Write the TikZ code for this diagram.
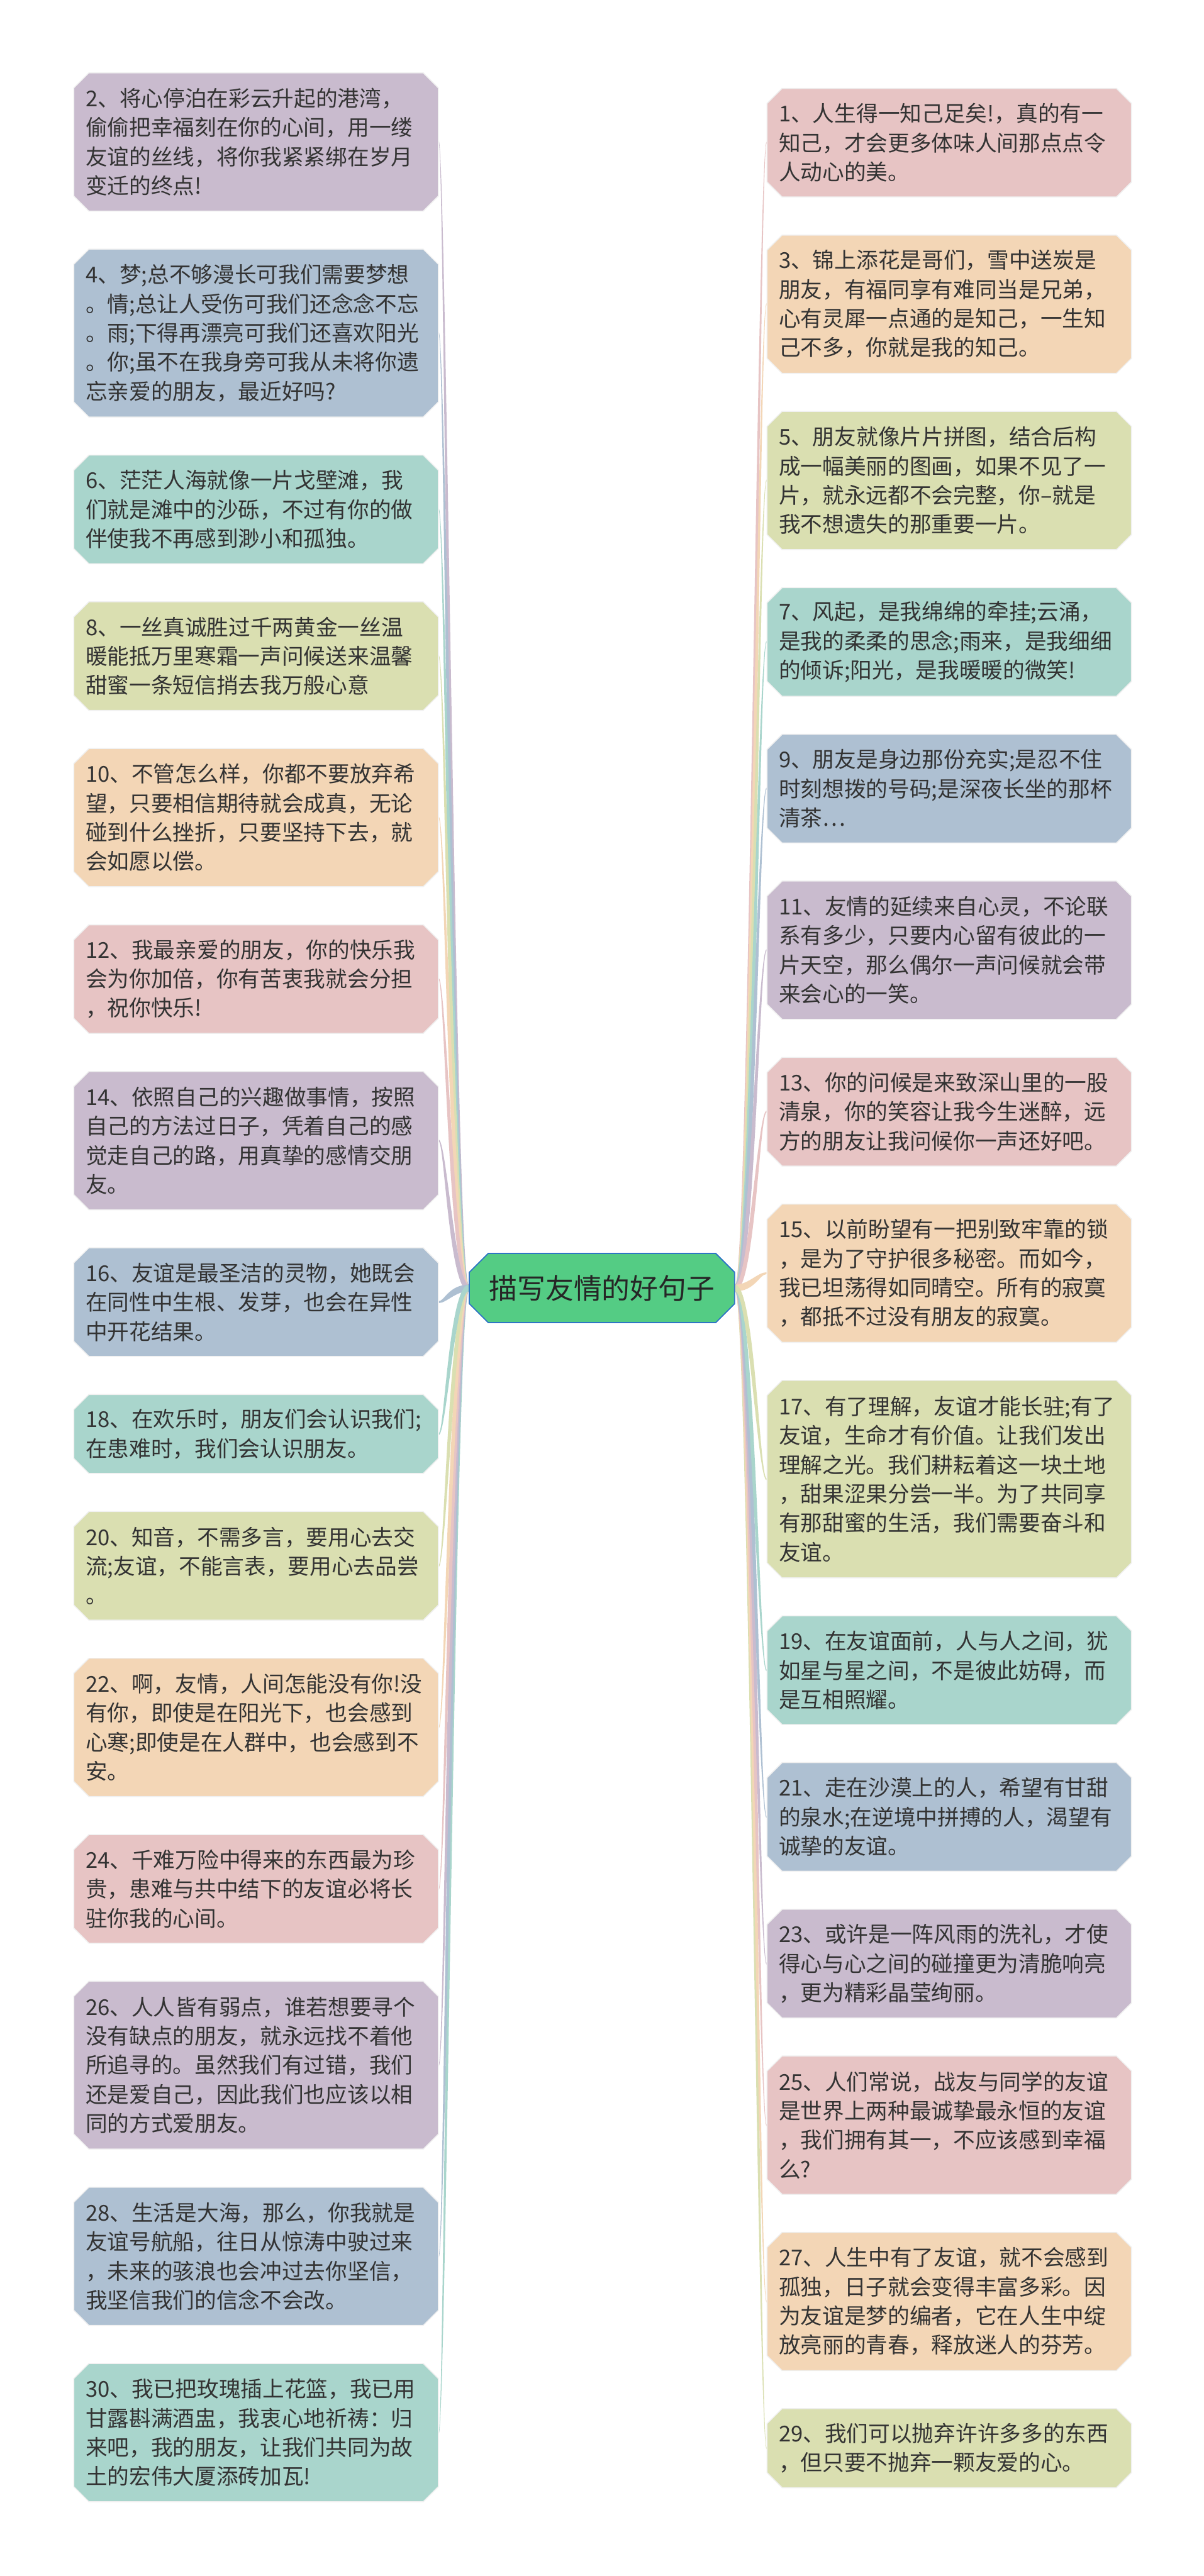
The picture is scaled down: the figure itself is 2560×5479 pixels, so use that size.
\documentclass[tikz,border=0pt]{standalone}
\usepackage{fontspec}
\newfontfamily\cjk{Noto Sans CJK SC}
\usepackage{tikz}
\usetikzlibrary{positioning,calc,shapes.misc,backgrounds}
\usepackage{xcolor}

\definecolor{cPink}{HTML}{E7C4C4}
\definecolor{cPeach}{HTML}{F3D6B6}
\definecolor{cOlive}{HTML}{DADFB1}
\definecolor{cTeal}{HTML}{A9D5CC}
\definecolor{cBlue}{HTML}{AEC0D2}
\definecolor{cLilac}{HTML}{C9BBCE}
\definecolor{cRoot}{HTML}{54CC84}
\definecolor{cRootLine}{HTML}{2E76C4}

% 渐细连线：#1 颜色，#2 目标节点，#3 方向（-1 向上，1 向下）
\newcommand{\leftbranch}[3]{%
  \pgfmathsetmacro\ca{-35-7*(#3)}\pgfmathsetmacro\cb{-35+7*(#3)}%
  \pgfmathsetmacro\cc{-50-2*(#3)}\pgfmathsetmacro\cd{-50+2*(#3)}%
  \fill[#1] ($(root.west)+(0,-7)$)
    .. controls ($(root.west)+(\ca,-7)$) and ($(#2.east -| root.west)+(\cc,-2)$) .. ($(#2.east)+(0,-2)$)
    -- ($(#2.east)+(0,2)$)
    .. controls ($(#2.east -| root.west)+(\cd,2)$) and ($(root.west)+(\cb,7)$) .. ($(root.west)+(0,7)$) -- cycle;}
\newcommand{\rightbranch}[3]{%
  \pgfmathsetmacro\ca{35+7*(#3)}\pgfmathsetmacro\cb{35-7*(#3)}%
  \pgfmathsetmacro\cc{50+2*(#3)}\pgfmathsetmacro\cd{50-2*(#3)}%
  \fill[#1] ($(root.east)+(0,-7)$)
    .. controls ($(root.east)+(\ca,-7)$) and ($(#2.west -| root.east)+(\cc,-2)$) .. ($(#2.west)+(0,-2)$)
    -- ($(#2.west)+(0,2)$)
    .. controls ($(#2.west -| root.east)+(\cd,2)$) and ($(root.east)+(\cb,7)$) .. ($(root.east)+(0,7)$) -- cycle;}

\begin{document}
\begin{tikzpicture}[x=0.25pt, y=-0.25pt,
    sentence/.style={chamfered rectangle, chamfered rectangle xsep=4pt, chamfered rectangle ysep=4pt,
      draw=black!6, line width=0.5pt, text=black!80, font=\cjk\fontsize{11.6pt}{15.5pt}\selectfont,
      text width=181.25pt, inner xsep=2.25pt, inner ysep=2pt, align=left,
      minimum width=193.75pt, minimum height={(15.75*#1+10.5)*1pt}},
    topic/.style={chamfered rectangle, chamfered rectangle xsep=5pt, chamfered rectangle ysep=5pt,
      fill=cRoot, draw=cRootLine, line width=0.6pt, text=black!85, font=\cjk\fontsize{15pt}{18pt}\selectfont,
      minimum width=141pt, minimum height=36.75pt, inner sep=0pt}]
    \useasboundingbox (0,0) rectangle (2560,5479);

    % 中心主题
    \node[topic] (root) at (1280,2739.5) {描写友情的好句子};

    % 左侧（偶数句）
    \node[sentence=4, fill=cLilac] (b2) at (544.5,302) {2、将心停泊在彩云升起的港湾，\\偷偷把幸福刻在你的心间，用一缕\\友谊的丝线，将你我紧紧绑在岁月\\变迁的终点!};
    \node[sentence=5, fill=cBlue] (b4) at (544.5,708.5) {4、梦;总不够漫长可我们需要梦想\\。情;总让人受伤可我们还念念不忘\\。雨;下得再漂亮可我们还喜欢阳光\\。你;虽不在我身旁可我从未将你遗\\忘亲爱的朋友，最近好吗?};
    \node[sentence=3, fill=cTeal] (b6) at (544.5,1083.5) {6、茫茫人海就像一片戈壁滩，我\\们就是滩中的沙砾，不过有你的做\\伴使我不再感到渺小和孤独。};
    \node[sentence=3, fill=cOlive] (b8) at (544.5,1395.5) {8、一丝真诚胜过千两黄金一丝温\\暖能抵万里寒霜一声问候送来温馨\\甜蜜一条短信捎去我万般心意};
    \node[sentence=4, fill=cPeach] (b10) at (544.5,1739) {10、不管怎么样，你都不要放弃希\\望，只要相信期待就会成真，无论\\碰到什么挫折，只要坚持下去，就\\会如愿以偿。};
    \node[sentence=3, fill=cPink] (b12) at (544.5,2082.5) {12、我最亲爱的朋友，你的快乐我\\会为你加倍，你有苦衷我就会分担\\，祝你快乐!};
    \node[sentence=4, fill=cLilac] (b14) at (544.5,2426) {14、依照自己的兴趣做事情，按照\\自己的方法过日子，凭着自己的感\\觉走自己的路，用真挚的感情交朋\\友。};
    \node[sentence=3, fill=cBlue] (b16) at (544.5,2769.5) {16、友谊是最圣洁的灵物，她既会\\在同性中生根、发芽，也会在异性\\中开花结果。};
    \node[sentence=2, fill=cTeal] (b18) at (544.5,3050) {18、在欢乐时，朋友们会认识我们;\\在患难时，我们会认识朋友。};
    \node[sentence=3, fill=cOlive] (b20) at (544.5,3330.5) {20、知音，不需多言，要用心去交\\流;友谊，不能言表，要用心去品尝\\。};
    \node[sentence=4, fill=cPeach] (b22) at (544.5,3674) {22、啊，友情，人间怎能没有你!没\\有你，即使是在阳光下，也会感到\\心寒;即使是在人群中，也会感到不\\安。};
    \node[sentence=3, fill=cPink] (b24) at (544.5,4017.5) {24、千难万险中得来的东西最为珍\\贵，患难与共中结下的友谊必将长\\驻你我的心间。};
    \node[sentence=5, fill=cLilac] (b26) at (544.5,4392.5) {26、人人皆有弱点，谁若想要寻个\\没有缺点的朋友，就永远找不着他\\所追寻的。虽然我们有过错，我们\\还是爱自己，因此我们也应该以相\\同的方式爱朋友。};
    \node[sentence=4, fill=cBlue] (b28) at (544.5,4799) {28、生活是大海，那么，你我就是\\友谊号航船，往日从惊涛中驶过来\\，未来的骇浪也会冲过去你坚信，\\我坚信我们的信念不会改。};
    \node[sentence=4, fill=cTeal] (b30) at (544.5,5174) {30、我已把玫瑰插上花篮，我已用\\甘露斟满酒盅，我衷心地祈祷：归\\来吧，我的朋友，让我们共同为故\\土的宏伟大厦添砖加瓦!};

    % 右侧（奇数句）
    \node[sentence=3, fill=cPink] (b1) at (2018.5,303.5) {1、人生得一知己足矣!，真的有一\\知己，才会更多体味人间那点点令\\人动心的美。};
    \node[sentence=4, fill=cPeach] (b3) at (2018.5,647) {3、锦上添花是哥们，雪中送炭是\\朋友，有福同享有难同当是兄弟，\\心有灵犀一点通的是知己，一生知\\己不多，你就是我的知己。};
    \node[sentence=4, fill=cOlive] (b5) at (2018.5,1022) {5、朋友就像片片拼图，结合后构\\成一幅美丽的图画，如果不见了一\\片，就永远都不会完整，你–就是\\我不想遗失的那重要一片。};
    \node[sentence=3, fill=cTeal] (b7) at (2018.5,1365.5) {7、风起，是我绵绵的牵挂;云涌，\\是我的柔柔的思念;雨来，是我细细\\的倾诉;阳光，是我暖暖的微笑!};
    \node[sentence=3, fill=cBlue] (b9) at (2018.5,1677.5) {9、朋友是身边那份充实;是忍不住\\时刻想拨的号码;是深夜长坐的那杯\\清茶…};
    \node[sentence=4, fill=cLilac] (b11) at (2018.5,2021) {11、友情的延续来自心灵，不论联\\系有多少，只要内心留有彼此的一\\片天空，那么偶尔一声问候就会带\\来会心的一笑。};
    \node[sentence=3, fill=cPink] (b13) at (2018.5,2364.5) {13、你的问候是来致深山里的一股\\清泉，你的笑容让我今生迷醉，远\\方的朋友让我问候你一声还好吧。};
    \node[sentence=4, fill=cPeach] (b15) at (2018.5,2708) {15、以前盼望有一把别致牢靠的锁\\，是为了守护很多秘密。而如今，\\我已坦荡得如同晴空。所有的寂寞\\，都抵不过没有朋友的寂寞。};
    \node[sentence=6, fill=cOlive] (b17) at (2018.5,3146) {17、有了理解，友谊才能长驻;有了\\友谊，生命才有价值。让我们发出\\理解之光。我们耕耘着这一块土地\\，甜果涩果分尝一半。为了共同享\\有那甜蜜的生活，我们需要奋斗和\\友谊。};
    \node[sentence=3, fill=cTeal] (b19) at (2018.5,3552.5) {19、在友谊面前，人与人之间，犹\\如星与星之间，不是彼此妨碍，而\\是互相照耀。};
    \node[sentence=3, fill=cBlue] (b21) at (2018.5,3864.5) {21、走在沙漠上的人，希望有甘甜\\的泉水;在逆境中拼搏的人，渴望有\\诚挚的友谊。};
    \node[sentence=3, fill=cLilac] (b23) at (2018.5,4176.5) {23、或许是一阵风雨的洗礼，才使\\得心与心之间的碰撞更为清脆响亮\\，更为精彩晶莹绚丽。};
    \node[sentence=4, fill=cPink] (b25) at (2018.5,4520) {25、人们常说，战友与同学的友谊\\是世界上两种最诚挚最永恒的友谊\\，我们拥有其一，不应该感到幸福\\么?};
    \node[sentence=4, fill=cPeach] (b27) at (2018.5,4895) {27、人生中有了友谊，就不会感到\\孤独，日子就会变得丰富多彩。因\\为友谊是梦的编者，它在人生中绽\\放亮丽的青春，释放迷人的芬芳。};
    \node[sentence=2, fill=cOlive] (b29) at (2018.5,5207) {29、我们可以抛弃许许多多的东西\\，但只要不抛弃一颗友爱的心。};

    % 连线（放在底层）
    \begin{scope}[on background layer]
        \fill[white] (0,0) rectangle (2560,5479);
        \foreach \b/\c/\s in {b2/cLilac/-1, b4/cBlue/-1, b6/cTeal/-1, b8/cOlive/-1, b10/cPeach/-1,
            b12/cPink/-1, b14/cLilac/-1, b30/cTeal/1, b28/cBlue/1, b26/cLilac/1, b24/cPink/1,
            b22/cPeach/1, b20/cOlive/1, b16/cBlue/1, b18/cTeal/1}
            {\leftbranch{\c}{\b}{\s}}
        \foreach \b/\c/\s in {b1/cPink/-1, b3/cPeach/-1, b5/cOlive/-1, b7/cTeal/-1, b9/cBlue/-1,
            b11/cLilac/-1, b13/cPink/-1, b15/cPeach/-1, b29/cOlive/1, b27/cPeach/1, b25/cPink/1,
            b23/cLilac/1, b21/cBlue/1, b19/cTeal/1, b17/cOlive/1}
            {\rightbranch{\c}{\b}{\s}}
    \end{scope}
\end{tikzpicture}
\end{document}
